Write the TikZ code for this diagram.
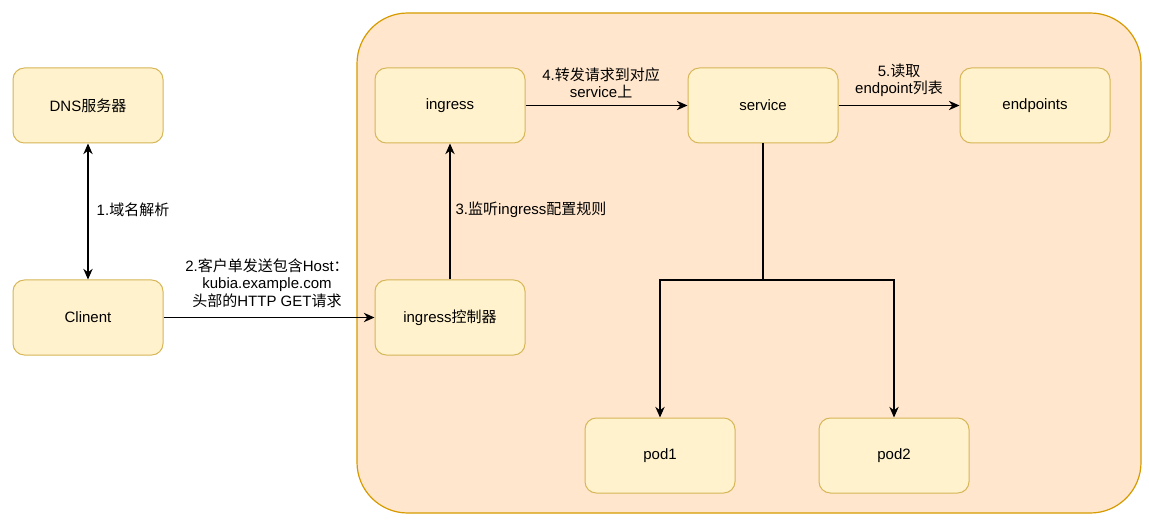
\documentclass[tikz,border=0pt]{standalone}
\usepackage{fontspec}
\setmainfont{Liberation Sans}
\newfontfamily\cjk{Noto Sans CJK SC}
\usetikzlibrary{arrows.meta}
\definecolor{boxfill}{HTML}{FFF2CC}
\definecolor{boxdraw}{HTML}{D6B656}
\definecolor{outfill}{HTML}{FFE6CC}
\definecolor{outdraw}{HTML}{D79B00}
\newcommand{\zh}[1]{{\cjk #1}}
\tikzset{
  every node/.style={font=\fontsize{11.25pt}{13pt}\selectfont},
  nbox/.style={draw=boxdraw, fill=boxfill, rounded corners=8.5pt, line width=0.75pt, minimum width=112.5pt, minimum height=56.25pt, inner sep=0pt, align=center},
  conn/.style={draw=black, line width=0.9pt, -{Stealth[length=8pt,width=7pt]}},
  lbl/.style={align=center, inner sep=1pt}
}
\begin{document}
\begin{tikzpicture}[x=0.75pt,y=-0.75pt]
\useasboundingbox (0,0) rectangle (1149,527);
\fill[white] (0,0) rectangle (1149,527);
\draw[fill=outfill, draw=outdraw, line width=0.9pt, rounded corners=38pt] (357,13) rectangle (1141,513);
\node[nbox] (dns) at (88,105.5) {DNS\zh{服务器}};
\node[nbox] (client) at (88,317.5) {Clinent};
\node[nbox] (ingress) at (450,105.5) {ingress};
\node[nbox] (ctrl) at (450,317.5) {ingress\zh{控制器}};
\node[nbox] (service) at (763,105.5) {service};
\node[nbox] (endpoints) at (1035,105.5) {endpoints};
\node[nbox] (pod1) at (660,455.5) {pod1};
\node[nbox] (pod2) at (894,455.5) {pod2};
\coordinate (junc) at (763,280);
\draw[line width=0.9pt, {Stealth[length=8pt,width=7pt]}-{Stealth[length=8pt,width=7pt]}] (dns) -- (client);
\node[lbl] (l1) at (133,210) {1.\zh{域名解析}};
\draw[conn] (client) -- (ctrl);
\node[lbl] (l2) at (267,283) {2.\zh{客户单发送包含}Host\zh{：}\\kubia.example.com\\\zh{头部的}HTTP GET\zh{请求}};
\draw[conn] (ctrl) -- (ingress);
\node[lbl] (l3) at (531,210) {3.\zh{监听}ingress\zh{配置规则}};
\draw[conn] (ingress) -- (service);
\node[lbl] (l4) at (601,83) {4.\zh{转发请求到对应}\\service\zh{上}};
\draw[conn] (service) -- (endpoints);
\node[lbl] (l5) at (899,80) {5.\zh{读取}\\endpoint\zh{列表}};
\draw[line width=0.9pt] (service.south) -- (junc);
\draw[conn] (junc) -| (pod1.north);
\draw[conn] (junc) -| (pod2.north);
\end{tikzpicture}
\end{document}
